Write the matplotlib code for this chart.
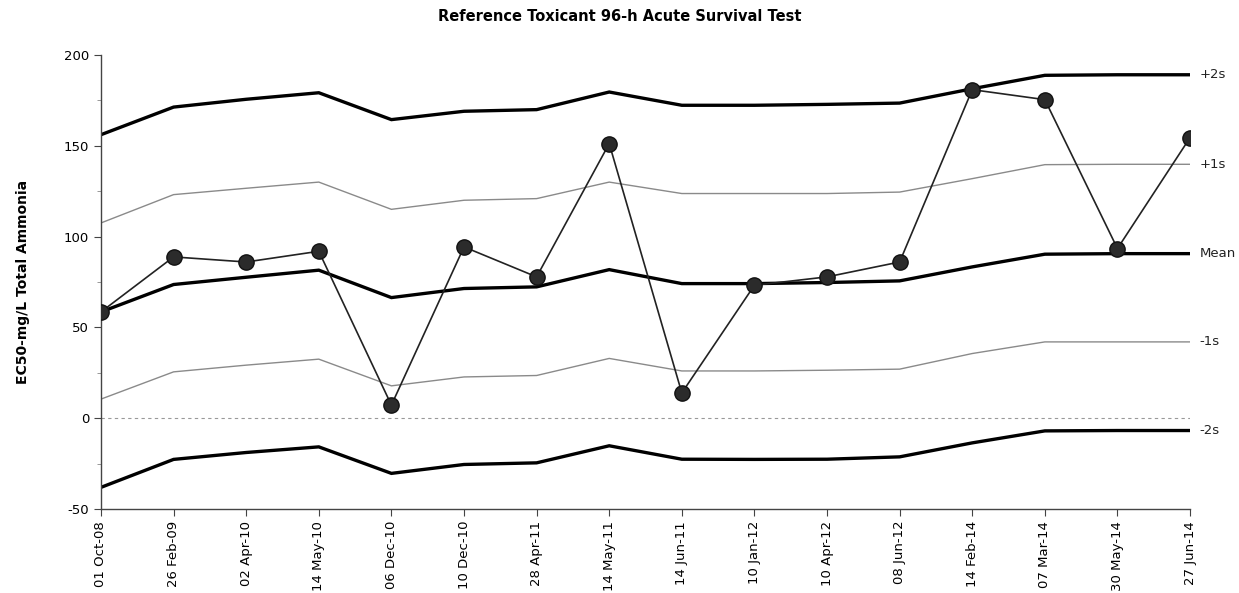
import matplotlib
matplotlib.use("Agg")
import matplotlib.pyplot as plt
from matplotlib.ticker import MultipleLocator
import numpy as np

DATES = ["01 Oct-08", "26 Feb-09", "02 Apr-10", "14 May-10", "06 Dec-10",
         "10 Dec-10", "28 Apr-11", "14 May-11", "14 Jun-11", "10 Jan-12",
         "10 Apr-12", "08 Jun-12", "14 Feb-14", "07 Mar-14", "30 May-14",
         "27 Jun-14"]

EC50 = [58.5, 88.8, 86.0, 91.9, 7.2, 94.3, 77.8, 151.2, 13.9, 73.2,
        77.8, 86.0, 180.9, 175.4, 93.4, 154.5]

MEAN = [58.5, 73.6, 77.6, 81.5, 66.4, 71.4, 72.3, 81.8, 74.1, 74.1,
        74.7, 75.6, 83.3, 90.3, 90.6, 90.6]
PLUS2S = [156.1, 171.3, 175.6, 179.2, 164.4, 169.0, 169.9, 179.6, 172.3, 172.3,
          172.8, 173.5, 181.4, 188.8, 189.1, 189.1]
PLUS1S = [107.5, 123.1, 126.6, 130.0, 115.0, 120.0, 120.9, 130.0, 123.7, 123.7,
          123.7, 124.5, 131.9, 139.6, 139.8, 139.8]
MINUS1S = [10.5, 25.5, 29.2, 32.5, 17.8, 22.7, 23.5, 32.9, 26.0, 26.0,
           26.4, 27.0, 35.6, 42.0, 42.0, 42.0]
MINUS2S = [-38.1, -22.7, -18.9, -15.8, -30.4, -25.5, -24.6, -15.2, -22.6, -22.7,
           -22.6, -21.3, -13.6, -7.0, -6.8, -6.8]

plt.rcParams["font.family"] = ["DejaVu Sans"]
plt.rcParams["axes.unicode_minus"] = False

fig = plt.figure(figsize=(12.39, 5.93), dpi=100)
ax = fig.add_axes([0.0815, 0.1417, 0.879, 0.7656])

x = np.arange(len(DATES))

# zero reference line
ax.axhline(0, color="#999999", lw=0.8, ls=(0, (3, 3)), zorder=1)

# control limits: (values, label, colour, width)
bands = [
    (PLUS2S, "+2s", "black", 2.4),
    (PLUS1S, "+1s", "#8a8a8a", 1.0),
    (MEAN, "Mean", "black", 2.4),
    (MINUS1S, "-1s", "#8a8a8a", 1.0),
    (MINUS2S, "-2s", "black", 2.4),
]
for vals, lab, col, lw in bands:
    ax.plot(x, vals, color=col, lw=lw, zorder=2, solid_joinstyle="miter")
    ax.annotate(lab, xy=(x[-1], vals[-1]), xytext=(7, 0),
                textcoords="offset points", va="center", ha="left",
                fontsize=9.5, color="#222222", annotation_clip=False)

ax.plot(x, EC50, color="#222222", lw=1.2, marker="o", markersize=11,
        markerfacecolor="#2b2b2b", markeredgecolor="#111111", zorder=3)

ax.set_xlim(0, len(DATES) - 1)
ax.set_ylim(-50, 200)
ax.yaxis.set_major_locator(MultipleLocator(50))
ax.yaxis.set_minor_locator(MultipleLocator(25))
ax.set_xticks(x)
ax.set_xticklabels(DATES, rotation=90, fontsize=9.5)
ax.tick_params(axis="y", labelsize=9.5, length=5, color="#444444")
ax.tick_params(axis="y", which="minor", length=3, color="#888888")
ax.tick_params(axis="x", length=5, color="#444444")

for s in ("top", "right"):
    ax.spines[s].set_visible(False)
for s in ("left", "bottom"):
    ax.spines[s].set_color("#444444")
    ax.spines[s].set_linewidth(1.0)

ax.set_ylabel("EC50-mg/L Total Ammonia", fontsize=10, fontweight="bold", labelpad=24)
fig.suptitle("Reference Toxicant 96-h Acute Survival Test", fontsize=10.5,
             fontweight="bold", x=0.5, y=0.985)

fig.savefig("out.png", dpi=100)
